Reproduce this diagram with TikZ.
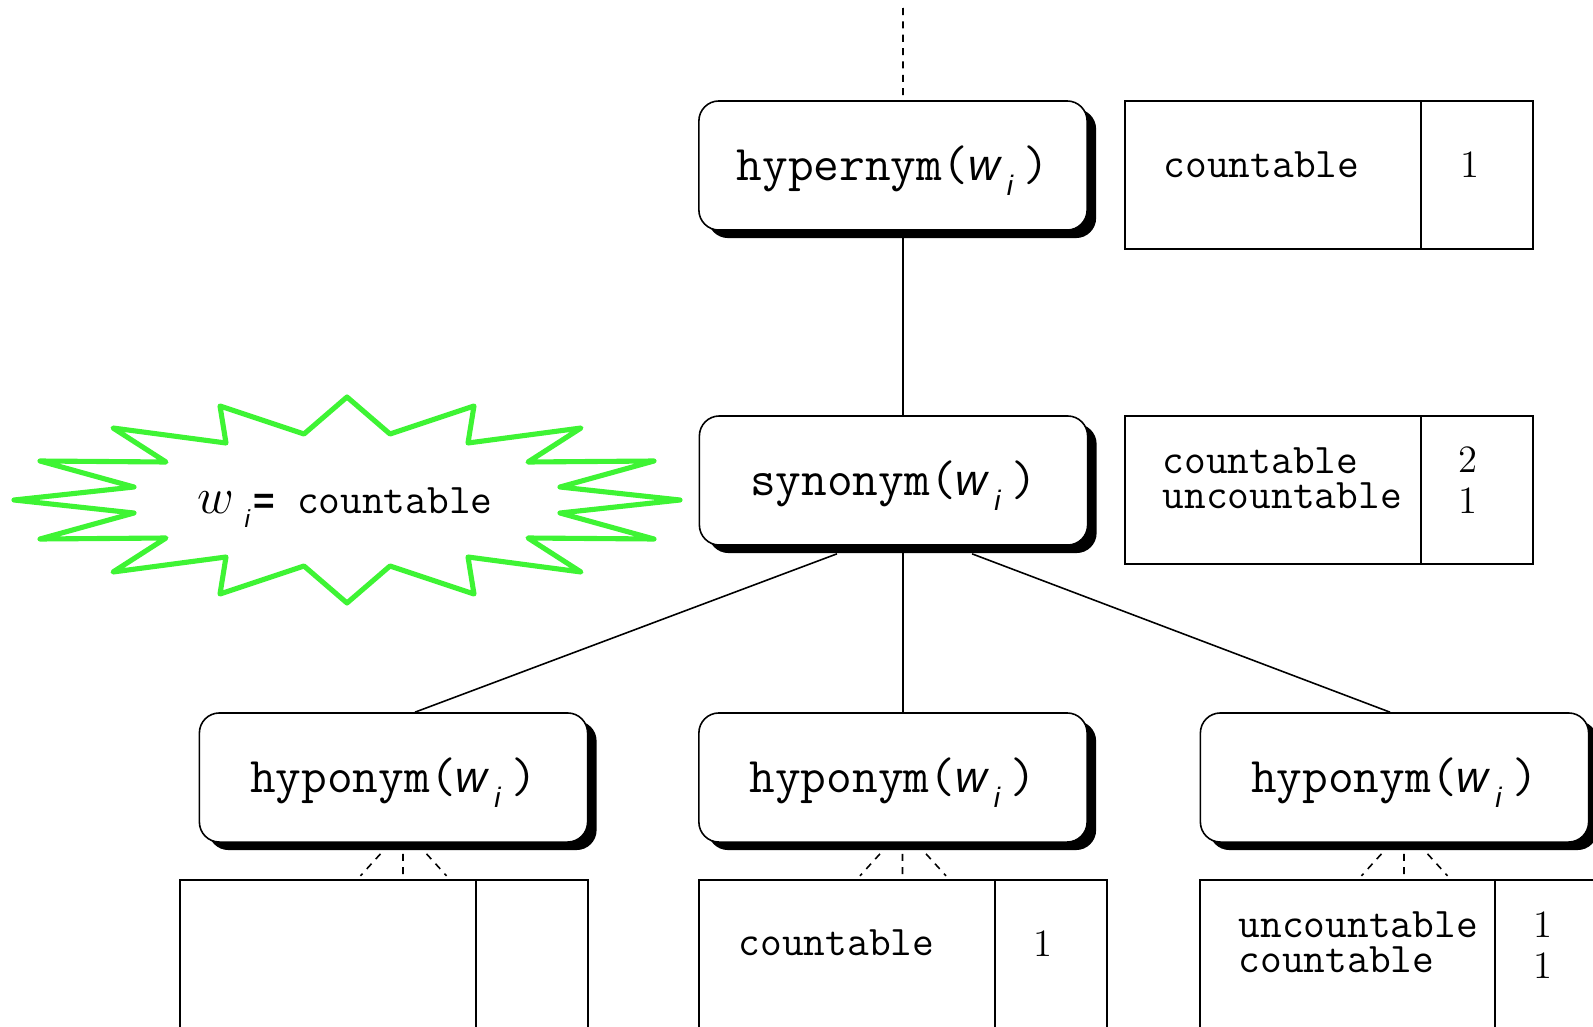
\documentclass[tikz,border=0pt]{standalone}
\usepackage{fontspec}
\newfontfamily\helvfont{Liberation Sans}
\usetikzlibrary{shadows}
\definecolor{burstgreen}{RGB}{62,244,52}
\newcommand{\wsub}{{\helvfont\itshape\fontsize{12.45}{14}\selectfont w}\kern2pt\raisebox{-4.3pt}{\fontsize{8}{8}\selectfont\helvfont\itshape i}\kern3pt}
\tikzset{
  relbox/.style={draw, line width=0.45pt, rounded corners=0.2cm, fill=white,
    minimum width=3.88cm, minimum height=1.29cm, text height=8.5pt, text depth=0pt,
    font=\ttfamily\fontsize{14.2}{16}\selectfont,
    drop shadow={shadow xshift=0.09cm, shadow yshift=-0.08cm, fill=black, opacity=1}},
  countbox/.style={draw, line width=0.45pt, minimum width=4.08cm, minimum height=1.48cm, inner sep=0pt},
  sense/.style={font=\ttfamily\fontsize{12}{10}\selectfont, inner sep=0pt, anchor=base west},
  freq/.style={font=\fontsize{11}{12}\selectfont, inner sep=0pt, anchor=base},
  link/.style={line width=0.45pt},
  trail/.style={line width=0.45pt, dash pattern=on 2pt off 1.8pt},
  burst/.style={draw=burstgreen, line width=1.45pt, line join=round}
}
\begin{document}
\begin{tikzpicture}[x=0.01cm,y=-0.01cm]
\useasboundingbox (0,0) rectangle (1593,1027);
% relations
\node[relbox] (hyper) at (893,165.5) {hypernym(\wsub)};
\node[relbox] (syn) at (893.5,480.5) {synonym(\wsub)};
\node[relbox] (hypoA) at (393.5,777.5) {hyponym(\wsub)};
\node[relbox] (hypoB) at (893,777.5) {hyponym(\wsub)};
\node[relbox] (hypoC) at (1394.5,777.5) {hyponym(\wsub)};
% counts
\node[countbox] (tabhyper) at (1329,175) {};
\draw[link] (tabhyper.north west) ++(297,0) -- ++(0,148);
\node[sense] (tabhyperS) at (1163,177) {countable};
\node[freq] (tabhyperN) at (1470,177) {1};
\node[countbox] (tabsyn) at (1329,490) {};
\draw[link] (tabsyn.north west) ++(297,0) -- ++(0,148);
\node[sense] (tabsynS) at (1162,473) {\vtop{\hbox{countable}\hbox{uncountable}}};
\node[freq] (tabsynN) at (1468,472) {2};
\node[freq] (tabsynM) at (1468,513) {1};
\node[countbox] (tabA) at (384,954) {};
\draw[link] (tabA.north west) ++(297,0) -- ++(0,148);
\node[countbox] (tabB) at (903,954) {};
\draw[link] (tabB.north west) ++(297,0) -- ++(0,148);
\node[sense] (tabBS) at (738,955) {countable};
\node[freq] (tabBN) at (1043,956) {1};
\node[countbox] (tabC) at (1404,954) {};
\draw[link] (tabC.north west) ++(296,0) -- ++(0,148);
\node[sense] (tabCS) at (1238,937) {\vtop{\hbox{uncountable}\hbox{countable}}};
\node[freq] (tabCN) at (1543,937) {1};
\node[freq] (tabCM) at (1543,978) {1};
% tree
\coordinate (top) at (903,8);
\draw[trail] (top) -- ([xshift=0.1cm]hyper.north);
\draw[link] ([xshift=0.1cm]hyper.south) -- ([xshift=0.095cm]syn.north);
\draw[link] ([xshift=-0.565cm,yshift=-0.08cm]syn.south) -- ([xshift=0.215cm]hypoA.north);
\draw[link] ([xshift=0.095cm]syn.south) -- ([xshift=0.1cm]hypoB.north);
\draw[link] ([xshift=0.785cm,yshift=-0.08cm]syn.south) -- ([xshift=-0.045cm]hypoC.north);
\draw[trail] ([xshift=0.095cm,yshift=-0.11cm]hypoA.south) -- ++(0,22)
  ([xshift=-0.13cm,yshift=-0.11cm]hypoA.south) -- ++(-20,22)
  ([xshift=0.33cm,yshift=-0.11cm]hypoA.south) -- ++(20,22);
\draw[trail] ([xshift=0.095cm,yshift=-0.11cm]hypoB.south) -- ++(0,22)
  ([xshift=-0.13cm,yshift=-0.11cm]hypoB.south) -- ++(-20,22)
  ([xshift=0.33cm,yshift=-0.11cm]hypoB.south) -- ++(20,22);
\draw[trail] ([xshift=0.095cm,yshift=-0.11cm]hypoC.south) -- ++(0,22)
  ([xshift=-0.13cm,yshift=-0.11cm]hypoC.south) -- ++(-20,22)
  ([xshift=0.33cm,yshift=-0.11cm]hypoC.south) -- ++(20,22);
% the claim
\draw[burst] (347,397) -- (390,434) -- (474,406) -- (468,443) -- (581,428) -- (528,462)
  -- (654,461) -- (560,487) -- (680,500) -- (560,513) -- (654,539) -- (528,538)
  -- (581,572) -- (468,557) -- (474,594) -- (390,566) -- (347,603) -- (304,566)
  -- (220,594) -- (226,557) -- (113,572) -- (166,538) -- (40,539) -- (134,513)
  -- (14,500) -- (134,487) -- (40,461) -- (166,462) -- (113,428) -- (226,443)
  -- (220,406) -- (304,434) -- cycle;
\node[anchor=base, inner sep=0pt] (claim) at (345,513) {\fontsize{14}{14}\selectfont$w$\kern3pt\raisebox{-0.3em}{\fontsize{7}{7}\selectfont\helvfont\itshape i}\kern1pt{\helvfont\bfseries\fontsize{10.5}{10}\selectfont =}{\ttfamily\fontsize{12}{10}\selectfont\ countable}};
\end{tikzpicture}
\end{document}
